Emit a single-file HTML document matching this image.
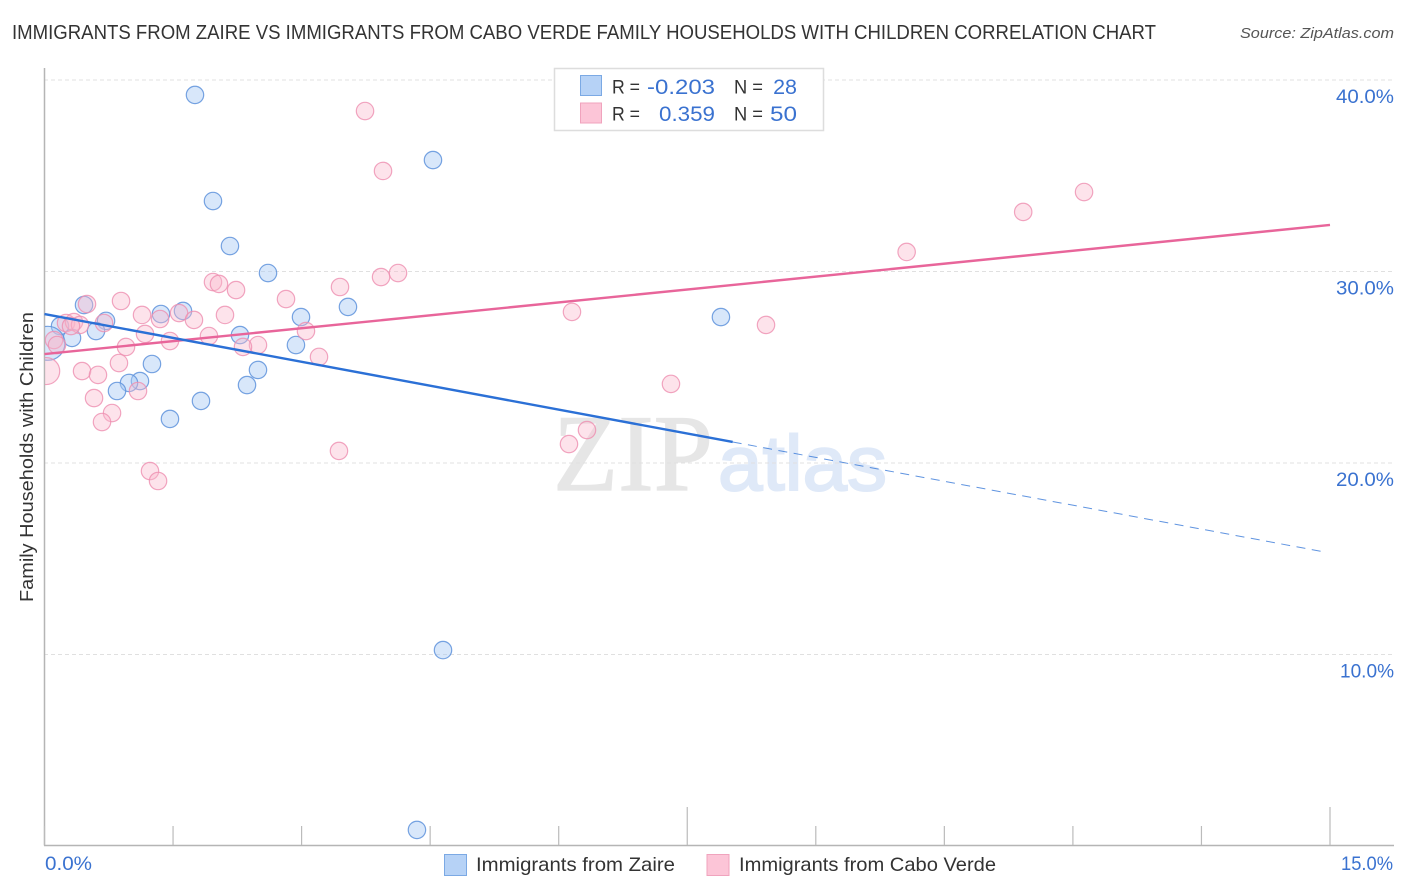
<!DOCTYPE html>
<html>
<head>
<meta charset="utf-8">
<title>Immigrants from Zaire vs Immigrants from Cabo Verde Family Households with Children Correlation Chart</title>
<style>
html,body{margin:0;padding:0;background:#fff;}
svg{display:block;font-family:"Liberation Sans",sans-serif;}
</style>
</head>
<body>
<svg id="chart" width="1406" height="892" viewBox="0 0 1406 892" xmlns="http://www.w3.org/2000/svg">
  <defs>
    <clipPath id="plot-clip"><rect x="45" y="60" width="1350" height="785"/></clipPath>
  </defs>
  <text x="12" y="39" font-size="20" fill="#333" textLength="1144" lengthAdjust="spacingAndGlyphs">IMMIGRANTS FROM ZAIRE VS IMMIGRANTS FROM CABO VERDE FAMILY HOUSEHOLDS WITH CHILDREN CORRELATION CHART</text>
  <text x="1394" y="38" font-size="15" font-style="italic" fill="#555" text-anchor="end" textLength="154" lengthAdjust="spacingAndGlyphs">Source: ZipAtlas.com</text>
  <g id="watermark">
    <text x="553" y="490" font-family="'Liberation Serif',serif" font-size="109" fill="#e6e6e6" stroke="#e6e6e6" stroke-width="1.2" textLength="160" lengthAdjust="spacingAndGlyphs">ZIP</text>
    <text x="718" y="490" font-size="78" fill="#dfe9f8" stroke="#dfe9f8" stroke-width="2" textLength="169" lengthAdjust="spacingAndGlyphs">atlas</text>
  </g>
  <g id="grid"></g>
  <g id="axes"></g>
  <g id="marks" clip-path="url(#plot-clip)"></g>
  <g id="lines"></g>
  <text transform="translate(33,457) rotate(-90)" font-size="18.5" fill="#333" text-anchor="middle" textLength="290" lengthAdjust="spacingAndGlyphs">Family Households with Children</text>
  <g>
    <rect x="554.5" y="68.5" width="269" height="62" fill="#fff" stroke="#ddd" stroke-width="1.5"/>
    <rect x="580.5" y="75.5" width="21" height="20" fill="#b6d2f6" stroke="#7ba9e4" stroke-width="1"/>
    <rect x="580.5" y="103" width="21" height="20" fill="#fcc5d7" stroke="#f0a3bd" stroke-width="1"/>
    <text x="612" y="93.5" font-size="19.5" fill="#333" textLength="28" lengthAdjust="spacingAndGlyphs">R =</text>
    <text x="715" y="94" font-size="21.5" fill="#3a72d0" text-anchor="end" textLength="68" lengthAdjust="spacingAndGlyphs">-0.203</text>
    <text x="734" y="93.5" font-size="19.5" fill="#333" textLength="29" lengthAdjust="spacingAndGlyphs">N =</text>
    <text x="797" y="94" font-size="21.5" fill="#3a72d0" text-anchor="end">28</text>
    <text x="612" y="120.5" font-size="19.5" fill="#333" textLength="28" lengthAdjust="spacingAndGlyphs">R =</text>
    <text x="715" y="121" font-size="21.5" fill="#3a72d0" text-anchor="end" textLength="56" lengthAdjust="spacingAndGlyphs">0.359</text>
    <text x="734" y="120.5" font-size="19.5" fill="#333" textLength="29" lengthAdjust="spacingAndGlyphs">N =</text>
    <text x="797" y="121" font-size="21.5" fill="#3a72d0" text-anchor="end" textLength="27" lengthAdjust="spacingAndGlyphs">50</text>
  </g>
  <g>
    <rect x="444.5" y="854.5" width="22" height="21" fill="#b6d2f6" stroke="#7ba9e4" stroke-width="1"/>
    <text x="476" y="871" font-size="19.5" fill="#333" textLength="199" lengthAdjust="spacingAndGlyphs">Immigrants from Zaire</text>
    <rect x="707" y="854.5" width="22" height="21" fill="#fcc5d7" stroke="#f0a3bd" stroke-width="1"/>
    <text x="739" y="871" font-size="19.5" fill="#333" textLength="257" lengthAdjust="spacingAndGlyphs">Immigrants from Cabo Verde</text>
  </g>
</svg>
<script>
const yTickValues = [10, 20, 30, 40];
const yTickLabels = ["10.0%", "20.0%", "30.0%", "40.0%"];
const xTickValues = [0, 1.5, 3, 4.5, 6, 7.5, 9, 10.5, 12, 13.5, 15];
const xTickMajor = [7.5, 15];
const xEndLabels = ["0.0%", "15.0%"];

const zaireX = [1.756,4.533,1.966,2.164,2.608,0.461,3.541,1.616,1.359,2.993,7.893,0.718,0.181,0.601,0.321,2.281,2.934,0.04,1.254,2.491,1.114,0.986,0.846,2.363,1.826,1.464,4.65,4.346];
const zaireY = [39.22,35.82,33.68,31.33,29.92,28.25,28.15,27.94,27.78,27.62,27.62,27.42,27.15,26.89,26.53,26.68,26.16,26.25,25.17,24.86,24.28,24.18,23.76,24.07,23.24,22.3,10.23,0.84];
const zaireSize = [8.7,8.7,8.7,8.7,8.7,8.7,8.7,8.7,8.7,8.7,8.7,8.7,8.7,8.7,8.7,8.7,8.7,17,8.7,8.7,8.7,8.7,8.7,8.7,8.7,8.7,8.7,8.7];

const caboX = [3.74,3.95,12.13,11.42,10.06,4.125,3.927,1.966,2.036,2.235,3.448,2.818,0.893,0.496,6.155,1.138,1.57,2.106,1.348,1.744,8.419,0.251,0.344,0.414,0.694,1.173,3.051,1.464,1.919,2.491,2.316,0.951,0.111,0.146,0.309,3.203,0.869,0.02,0.438,0.624,1.091,0.578,7.31,0.788,0.671,6.33,6.12,3.436,1.231,1.325];
const caboY = [38.38,35.25,34.15,33.11,31.02,29.92,29.71,29.45,29.35,29.03,29.19,28.56,28.46,28.3,27.89,27.73,27.83,27.73,27.52,27.47,27.21,27.31,27.36,27.21,27.31,26.74,26.89,26.37,26.63,26.16,26.06,26.06,26.42,26.16,27.15,25.54,25.22,24.8,24.8,24.6,23.76,23.39,24.13,22.61,22.14,21.72,20.99,20.63,19.58,19.06];
const caboSize = [8.7,8.7,8.7,8.7,8.7,8.7,8.7,8.7,8.7,8.7,8.7,8.7,8.7,8.7,8.7,8.7,8.7,8.7,8.7,8.7,8.7,8.7,8.7,8.7,8.7,8.7,8.7,8.7,8.7,8.7,8.7,8.7,8.7,8.7,8.7,8.7,8.7,13.5,8.7,8.7,8.7,8.7,8.7,8.7,8.7,8.7,8.7,8.7,8.7,8.7];

const zaireTrend = [27.78, 15.3];
const zaireSolidEnd = 8.03;
const caboTrend = [25.69, 32.43];

const SVGNS = "http://www.w3.org/2000/svg";
const xScale = v => 44.5 + v * 85.7;
const yScale = v => 80 + (40 - v) * 19.15;

function make(tag, attrs, parent, text) {
  const el = document.createElementNS(SVGNS, tag);
  for (const k in attrs) el.setAttribute(k, attrs[k]);
  if (text !== undefined) el.textContent = text;
  parent.appendChild(el);
  return el;
}

const gridG = document.getElementById("grid");
const axesG = document.getElementById("axes");
const marksG = document.getElementById("marks");
const linesG = document.getElementById("lines");

yTickValues.forEach((v, i) => {
  const line = make("line", {x1: 44, x2: 1394, y1: yScale(v), y2: yScale(v), stroke: "#e0e0e0", "stroke-width": 1, "stroke-dasharray": "4 3"}, gridG);
  
  
  const labelWidth = yTickLabels[i].charAt(0) === "1" ? 54 : 58;
  const label = make("text", {x: 1394, y: yScale(v) + 23, "font-size": 19.5, fill: "#3a72d0", "text-anchor": "end", textLength: labelWidth, lengthAdjust: "spacingAndGlyphs"}, axesG, yTickLabels[i]);
  
  
});

const leftAxis = make("line", {x1: 44.5, x2: 44.5, y1: 68, y2: 845.5, stroke: "#b5b5b5", "stroke-width": 1.5}, axesG);


const bottomAxis = make("line", {x1: 44, x2: 1394, y1: 845.5, y2: 845.5, stroke: "#b5b5b5", "stroke-width": 1.5}, axesG);



xTickValues.forEach(v => {
  const top = xTickMajor.includes(v) ? 807 : 826;
  const tick = make("line", {x1: xScale(v), x2: xScale(v), y1: top, y2: 845, stroke: "#bbb", "stroke-width": 1.2}, axesG);
  
  
});

const xStartLabel = make("text", {x: 45, y: 870, "font-size": 19.5, fill: "#3a72d0", textLength: 47, lengthAdjust: "spacingAndGlyphs"}, axesG, xEndLabels[0]);


const xEndLabel = make("text", {x: 1393, y: 870, "font-size": 19.5, fill: "#3a72d0", "text-anchor": "end", textLength: 52, lengthAdjust: "spacingAndGlyphs"}, axesG, xEndLabels[1]);



zaireX.forEach((x, i) => {
  const c = make("circle", {cx: xScale(x), cy: yScale(zaireY[i]), r: zaireSize[i], fill: "#a9c9f3", "fill-opacity": 0.45, stroke: "#5f93dc", "stroke-opacity": 0.85, "stroke-width": 1.2}, marksG);
  
  
});
caboX.forEach((x, i) => {
  const c = make("circle", {cx: xScale(x), cy: yScale(caboY[i]), r: caboSize[i], fill: "#f9b8ce", "fill-opacity": 0.4, stroke: "#ee8fb0", "stroke-opacity": 0.8, "stroke-width": 1.2}, marksG);
  
  
});

const trendAt = (t, x) => t[0] + (t[1] - t[0]) * x / 15;

const caboLine = make("line", {x1: xScale(0), y1: yScale(trendAt(caboTrend, 0)), x2: xScale(15), y2: yScale(trendAt(caboTrend, 15)), stroke: "#e8659a", "stroke-width": 2.4}, linesG);


const zaireLine = make("line", {x1: xScale(0), y1: yScale(trendAt(zaireTrend, 0)), x2: xScale(zaireSolidEnd), y2: yScale(trendAt(zaireTrend, zaireSolidEnd)), stroke: "#2b70d6", "stroke-width": 2.4}, linesG);


const zaireDash = make("line", {x1: xScale(zaireSolidEnd), y1: yScale(trendAt(zaireTrend, zaireSolidEnd)), x2: xScale(14.94), y2: yScale(trendAt(zaireTrend, 14.94)), stroke: "#2b70d6", "stroke-opacity": 0.75, "stroke-width": 1, "stroke-dasharray": "9 6.5"}, linesG);


</script>
</body>
</html>
